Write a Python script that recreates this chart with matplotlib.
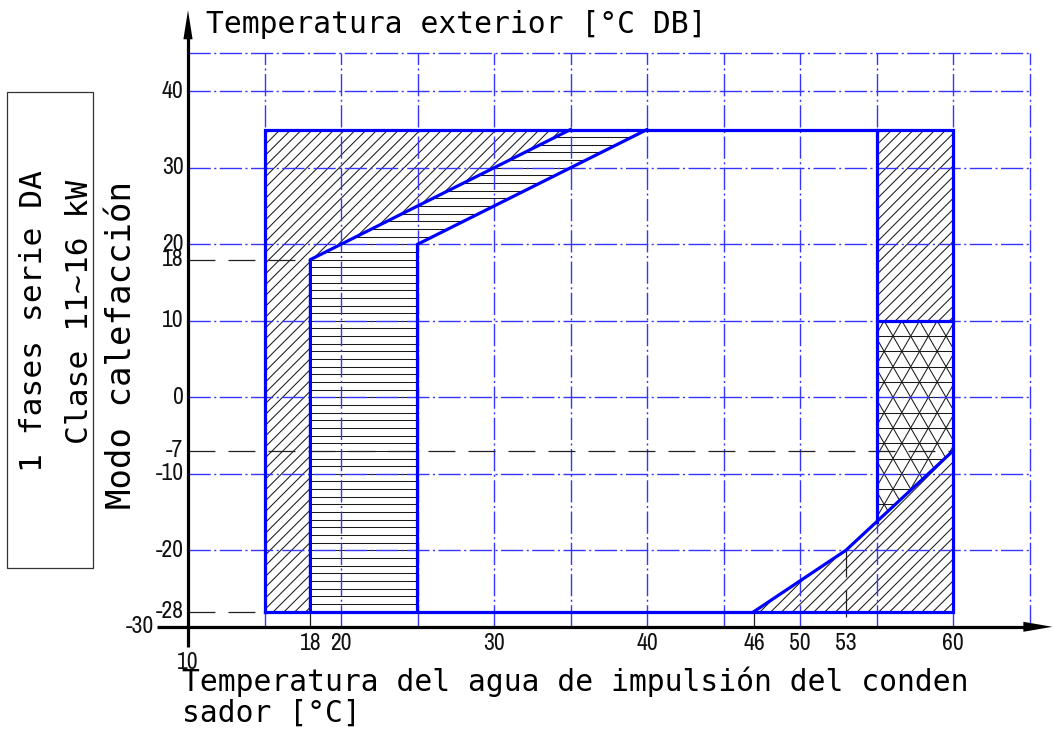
import matplotlib
matplotlib.use("Agg")
import matplotlib.pyplot as plt
import numpy as np
from matplotlib.patches import Polygon, Rectangle

# ---------------- data ----------------
# tick positions as drawn in the reference, and their printed labels
x_tick_pos = [18, 20, 30, 40, 47, 50, 53, 60]
x_tick_labels = ["18", "20", "30", "40", "46", "50", "53", "60"]
x_origin_label = "10"
y_tick_values = [40, 30, 20, 18, 10, 0, -7, -10, -20, -28, -30]

grid_x = [15, 20, 25, 30, 35, 40, 45, 50, 55, 60, 65]
grid_y = [45, 40, 30, 20, 10, 0, -10, -20]

outer_x = [15, 15, 60, 60, 15]
outer_y = [-28, 35, 35, -28, -28]
inner_a_x = [18, 18, 35]
inner_a_y = [-28, 18, 35]
inner_b_x = [25, 25, 40]
inner_b_y = [-28, 20, 35]
slope_x = [47, 53, 60]
slope_y = [-28, -20, -7]
split_x = 55
split_y = 10

ref_h_y = [18, -7, -28]
ref_h_end = [18, 60, 15]
ref_v_x = [18, 47, 53]
ref_v_start = [-28, -28, -20]

title_top = "Temperatura exterior [°C DB]"
xlabel_l1 = "Temperatura del agua de impulsión del conden"
xlabel_l2 = "sador [°C]"
side_lines = ["1 fases serie DA", "Clase 11~16 kW", "Modo calefacción"]

# ---------------- layout ----------------
W, H = 1055, 731
fig = plt.figure(figsize=(W / 100, H / 100), dpi=100)
ax = fig.add_axes([0, 0, 1, 1])
X0PX, SX = 188.0, 15.3
Y0PX, SY = 397.3, 7.65
ax.set_xlim(10 - X0PX / SX, 10 + (W - X0PX) / SX)
ax.set_ylim(-(H - Y0PX) / SY, Y0PX / SY)
ax.axis("off")

BLUE = "#0000ff"
GRID = "#3535ff"
plt.rcParams["lines.scale_dashes"] = False

# ---------------- hatching helpers ----------------
def clip_patch(pts):
    p = Polygon(pts, closed=True, fill=False, edgecolor="none")
    ax.add_patch(p)
    return p

def diag_hatch(pts, spacing=0.706, lw=0.75, color="#1a1a1a"):
    p = clip_patch(pts)
    xs = [q[0] for q in pts]
    ys = [q[1] for q in pts]
    y0, y1 = min(ys) - 1, max(ys) + 1
    for c in np.arange(min(xs) - y1 / 2 - 2, max(xs) - y0 / 2 + 2, spacing):
        ln, = ax.plot([c + y0 / 2, c + y1 / 2], [y0, y1], color=color, lw=lw, zorder=2)
        ln.set_clip_path(p)

def horiz_hatch(pts, step=1, lw=0.75, color="#1a1a1a"):
    p = clip_patch(pts)
    xs = [q[0] for q in pts]
    ys = [q[1] for q in pts]
    for y in np.arange(np.floor(min(ys)), np.ceil(max(ys)) + 1, step):
        ln, = ax.plot([min(xs) - 1, max(xs) + 1], [y, y], color=color, lw=lw, zorder=2)
        ln.set_clip_path(p)

def tri_hatch(pts, x_ref=56.08, y_ref=8, side=1.155, lw=0.75, color="#1a1a1a"):
    p = clip_patch(pts)
    xs = [q[0] for q in pts]
    ys = [q[1] for q in pts]
    y0, y1 = min(ys) - 2, max(ys) + 2
    for y in np.arange(y_ref - 40, y_ref + 40, 2):
        if y0 <= y <= y1:
            ln, = ax.plot([min(xs) - 1, max(xs) + 1], [y, y], color=color, lw=lw, zorder=2)
            ln.set_clip_path(p)
    m = 2.0 / (side / 2)
    for k in range(-30, 30):
        xv = x_ref + k * side
        for s in (m, -m):
            ln, = ax.plot([xv + (y0 - y_ref) / s, xv + (y1 - y_ref) / s], [y0, y1],
                          color=color, lw=lw, zorder=2)
            ln.set_clip_path(p)

y_split_bottom = float(np.interp(split_x, slope_x, slope_y))

region_diag_left = [(outer_x[0], outer_y[0]), (outer_x[1], outer_y[1]),
                    (inner_a_x[2], inner_a_y[2]), (inner_a_x[1], inner_a_y[1]),
                    (inner_a_x[0], inner_a_y[0])]
region_horiz = [(inner_a_x[0], inner_a_y[0]), (inner_a_x[1], inner_a_y[1]),
                (inner_a_x[2], inner_a_y[2]), (inner_b_x[2], inner_b_y[2]),
                (inner_b_x[1], inner_b_y[1]), (inner_b_x[0], inner_b_y[0])]
region_diag_right = [(split_x, split_y), (split_x, outer_y[1]),
                     (outer_x[2], outer_y[2]), (outer_x[2], split_y)]
region_tri = [(split_x, split_y), (outer_x[2], split_y),
              (slope_x[2], slope_y[2]), (split_x, y_split_bottom)]
region_diag_bottom = [(slope_x[0], slope_y[0]), (slope_x[1], slope_y[1]),
                      (slope_x[2], slope_y[2]), (outer_x[3], outer_y[3])]

diag_hatch(region_diag_left)
horiz_hatch(region_horiz)
diag_hatch(region_diag_right)
tri_hatch(region_tri)
diag_hatch(region_diag_bottom)

# ---------------- grid ----------------
dashdot = (0, (16, 2.5, 1.5, 2.5))
for gx in grid_x:
    ax.plot([gx, gx], [-30, grid_y[0]], color=GRID, lw=1.0, ls=dashdot, zorder=3)
for gy in grid_y:
    ax.plot([10, grid_x[-1]], [gy, gy], color=GRID, lw=1.0, ls=dashdot, zorder=3)

# ---------------- reference dashed lines ----------------
dash = (0, (19.4, 9.4))
for yv, xe in zip(ref_h_y, ref_h_end):
    ax.plot([10, xe], [yv, yv], color="#202020", lw=0.9, ls=dash, zorder=4)
for xv, ys in zip(ref_v_x, ref_v_start):
    ax.plot([xv, xv], [ys, -30], color="#202020", lw=0.9, ls=dash, zorder=4)

# ---------------- boundary lines ----------------
kw = dict(color=BLUE, lw=2.3, zorder=6, solid_joinstyle="miter")
ax.plot(outer_x, outer_y, **kw)
ax.plot(inner_a_x, inner_a_y, **kw)
ax.plot(inner_b_x, inner_b_y, **kw)
ax.plot(slope_x, slope_y, **kw)
ax.plot([split_x, split_x], [outer_y[1], y_split_bottom], **kw)
ax.plot([split_x, outer_x[2]], [split_y, split_y], **kw)

# ---------------- axes with arrows ----------------
ax.plot([7.95, 65.2], [-30, -30], color="black", lw=2.3, zorder=7, solid_capstyle="butt")
ax.plot([10, 10], [-32.7, 47.5], color="black", lw=2.3, zorder=7, solid_capstyle="butt")
ax.fill([10, 9.7, 10.3], [50.6, 46.8, 46.8], color="black", zorder=8, lw=0)
ax.fill([66.5, 64.6, 64.6], [-30, -29.35, -30.65], color="black", zorder=8, lw=0)

# ---------------- tick labels ----------------
tick_font = dict(family="Archivo Narrow", size=17, color="#111111")
for v in y_tick_values:
    xr = 9.7 if v != -30 else 7.8
    ax.text(xr, v, str(v), ha="right", va="center", **tick_font)
for xp, lab in zip(x_tick_pos, x_tick_labels):
    ax.text(xp, -32.2, lab, ha="center", va="center", **tick_font)
ax.text(10, -34.7, x_origin_label, ha="center", va="center", **tick_font)

# ---------------- titles ----------------
mono = dict(family="DejaVu Sans Mono", color="black")
fig.text(206 / W, 1 - 33 / H, title_top, ha="left", va="baseline", size=21.3, **mono)
fig.text(182 / W, 1 - 691 / H, xlabel_l1, ha="left", va="baseline", size=21.3, **mono)
fig.text(182 / W, 1 - 722 / H, xlabel_l2, ha="left", va="baseline", size=21.3, **mono)

fig.add_artist(Rectangle((7 / W, 1 - 568 / H), 86 / W, 476 / H, transform=fig.transFigure,
                         fill=False, edgecolor="#333333", lw=0.9))
side_pos = [(42, 321, 22.5), (88, 312, 22.5), (131, 345, 24.5)]
for txt, (bx, cy, sz) in zip(side_lines, side_pos):
    fig.text(bx / W, 1 - cy / H, txt, rotation=90, rotation_mode="anchor",
             ha="center", va="baseline", size=sz, **mono)

fig.savefig("out.png", dpi=100)
